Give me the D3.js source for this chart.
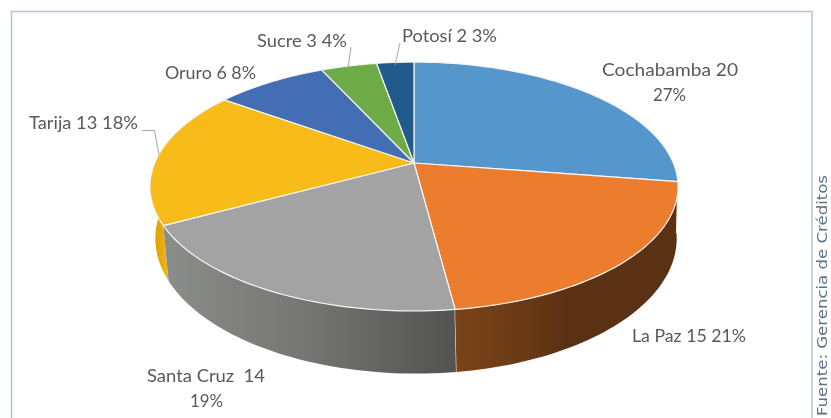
<!DOCTYPE html>
<html>
<head>
<meta charset="utf-8">
<script src="https://cdn.jsdelivr.net/npm/d3@7"></script>
<style>
  html, body { margin: 0; padding: 0; background: #fff; overflow: hidden; }
  svg { display: block; filter: blur(0.45px); }
  .lbl { font-family: "Lato", sans-serif; font-size: 18px; fill: #595959; white-space: pre; }
</style>
</head>
<body>
<svg id="chart" width="831" height="418"></svg>
<script>
var cities = ["Cochabamba", "La Paz", "Santa Cruz ", "Tarija", "Oruro", "Sucre", "Potosí"];
var values = [20, 15, 14, 13, 6, 3, 2];
var percents = ["27%", "21%", "19%", "18%", "8%", "4%", "3%"];
var colours = ["#5596cd", "#ec7d2f", "#a3a3a3", "#f8bc1a", "#436eb3", "#6dab46", "#215b8c"];

var svg = d3.select("#chart");
var defs = svg.append("defs");

// frame, runs off the bottom of the picture
svg.append("path")
    .attr("d", "M11.5,430V11.5H812V430")
    .attr("fill", "none")
    .attr("stroke", "#b9c4d2")
    .attr("stroke-width", 1.5);

// the 3D look: unit circle through a perspective, top face and bottom rim
var persp = -0.189;
var topFace = {cx: 414, cy: 163, rx: 259.3, ry: 120};
var bottomRim = {cx: 416, cy: 212.8, rx: 256, ry: 130.4};

function project(face, angle) {
    var u = Math.sin(angle), v = -Math.cos(angle);
    var w = 1 + persp * v;
    return [face.cx + face.rx * u / w, face.cy + face.ry * v / w];
}

function rim(face, a0, a1) {
    var n = Math.max(2, Math.ceil((a1 - a0) * 40));
    return d3.range(n + 1).map(function(i) {
        return project(face, a0 + (a1 - a0) * i / n);
    });
}

var line = d3.line();
var colour = d3.scaleOrdinal().domain(cities).range(colours);
var slices = d3.pie().sort(null).startAngle(0).endAngle(2 * Math.PI)(values);

function addGradient(id, stops) {
    var g = defs.append("linearGradient").attr("id", id)
        .attr("gradientUnits", "objectBoundingBox")
        .attr("x1", 0).attr("x2", 1).attr("y1", 0).attr("y2", 0);
    stops.forEach(function(s) {
        g.append("stop").attr("offset", s[0]).attr("stop-color", s[1]);
    });
}
addGradient("sideLaPaz", [[0, "#7a4318"], [0.3, "#6a3a15"], [0.5, "#5b3113"], [1, "#5b3113"]]);
addGradient("sideSanta", [[0, "#8b8d8b"], [0.5, "#757573"], [0.8, "#5f5f5d"], [1, "#535353"]]);
addGradient("sideTarija", [[0, "#dfa400"], [0.5, "#e2a806"], [1, "#f2b516"]]);

// sides, only the three slices facing us
var sideFill = {1: "url(#sideLaPaz)", 2: "url(#sideSanta)", 3: "url(#sideTarija)"};
var sideStroke = {1: "#f1ece6", 2: "#e8e8e8", 3: "none"};
[3, 2, 1].forEach(function(i) {
    var d = slices[i];
    var end = i == 3 ? d.startAngle + 0.6 : d.endAngle;
    var pts = rim(topFace, d.startAngle, end)
        .concat(rim(bottomRim, d.startAngle, end).reverse());
    svg.append("path")
        .attr("d", line(pts) + "Z")
        .attr("fill", sideFill[i]);
    if (i != 3) {
        // white seam down the left hand edge of the side
        svg.append("path")
            .attr("d", line([project(topFace, d.startAngle), project(bottomRim, d.startAngle)]))
            .attr("stroke", sideStroke[i])
            .attr("stroke-width", 1.2);
    }
});

// top face
svg.append("g").selectAll("path")
    .data(slices)
    .join("path")
    .attr("d", function(d) {
        var pts = [[topFace.cx, topFace.cy]].concat(rim(topFace, d.startAngle, d.endAngle));
        return line(pts) + "Z";
    })
    .attr("fill", function(d, i) { return colour(cities[i]); })
    .attr("stroke", "#f4f4f4")
    .attr("stroke-width", 1.2)
    .attr("stroke-linejoin", "round");

// leader lines
var leaders = {
    3: [[142, 130.5], [154.5, 130.5]],
    5: [[351, 47]],
    6: [[400, 43]]
};
var leaderEnd = {3: [159, 155], 5: [348, 68], 6: [395, 65]};
Object.keys(leaders).forEach(function(i) {
    svg.append("path")
        .attr("d", line(leaders[i].concat([leaderEnd[i]])))
        .attr("fill", "none")
        .attr("stroke", "#a6a6a6")
        .attr("stroke-width", 1);
});

// data labels: x, baseline, fitted width for each text line
var labelLayout = [
    [[602, 76, 136], [653, 101, 33]],
    [[632, 342, 114]],
    [[147, 382, 118], [190, 407, 33]],
    [[29, 129, 109]],
    [[165, 79, 91]],
    [[257, 46.5, 90]],
    [[402, 42, 95]]
];

function addText(str, p) {
    svg.append("text")
        .attr("class", "lbl")
        .attr("x", p[0])
        .attr("y", p[1])
        .attr("textLength", p[2])
        .attr("lengthAdjust", "spacingAndGlyphs")
        .text(str);
}

cities.forEach(function(c, i) {
    var head = c + " " + values[i];
    var lay = labelLayout[i];
    if (lay.length == 2) {
        addText(head, lay[0]);
        addText(percents[i], lay[1]);
    } else {
        addText(head + " " + percents[i], lay[0]);
    }
});

// source note, rotated along the right hand side
svg.append("text")
    .attr("transform", "translate(827,416) rotate(-90)")
    .attr("font-family", "'DejaVu Sans', sans-serif")
    .attr("font-size", 14.5)
    .attr("fill", "#5c7389")
    .attr("textLength", 241)
    .attr("lengthAdjust", "spacingAndGlyphs")
    .text("Fuente: Gerencia de Créditos");
</script>
</body>
</html>
